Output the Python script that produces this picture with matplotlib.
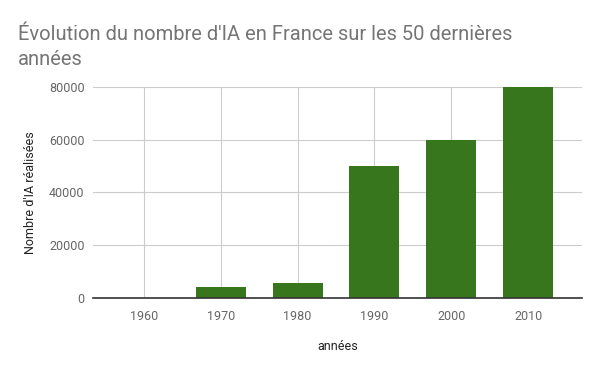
import matplotlib
matplotlib.use("Agg")
import matplotlib.pyplot as plt

categories = ["1960", "1970", "1980", "1990", "2000", "2010"]
values = [0, 4000, 5500, 50000, 60000, 80000]
yticks = [0, 20000, 40000, 60000, 80000]

plt.rcParams['font.family'] = ['Roboto', 'DejaVu Sans']

fig = plt.figure(figsize=(6, 3.71), dpi=100)
ax = fig.add_axes([0.155, 0.197, 0.815, 0.5685])

x = list(range(len(categories)))
ax.bar(x, values, width=0.65, color="#38761d", zorder=3)

ax.set_xlim(-0.66, len(categories) - 0.3)
ax.set_ylim(0, 80000)
ax.set_yticks(yticks)
ax.set_yticklabels([str(v) for v in yticks])
ax.set_xticks(x)
ax.set_xticklabels(categories)

ax.grid(True, color="#cccccc", linewidth=0.8, zorder=0)
for s in ["top", "right", "left"]:
    ax.spines[s].set_visible(False)
ax.spines["bottom"].set_color("#333333")
ax.spines["bottom"].set_linewidth(1.2)
ax.spines["bottom"].set_zorder(4)
ax.tick_params(axis="both", length=0, labelsize=9, labelcolor="#666666")
ax.tick_params(axis="x", pad=9)
ax.tick_params(axis="y", pad=6)

ax.set_xlabel("années", fontsize=9, color="#222222", labelpad=12)
ax.set_ylabel("Nombre d'IA réalisées", fontsize=9, color="#222222", labelpad=9)

fig.text(0.03, 0.872, "Évolution du nombre d'IA en France sur les 50 dernières\nannées",
         fontsize=14.5, color="#757575", ha="left", va="center", linespacing=1.4)

fig.savefig("out.png", dpi=100)
